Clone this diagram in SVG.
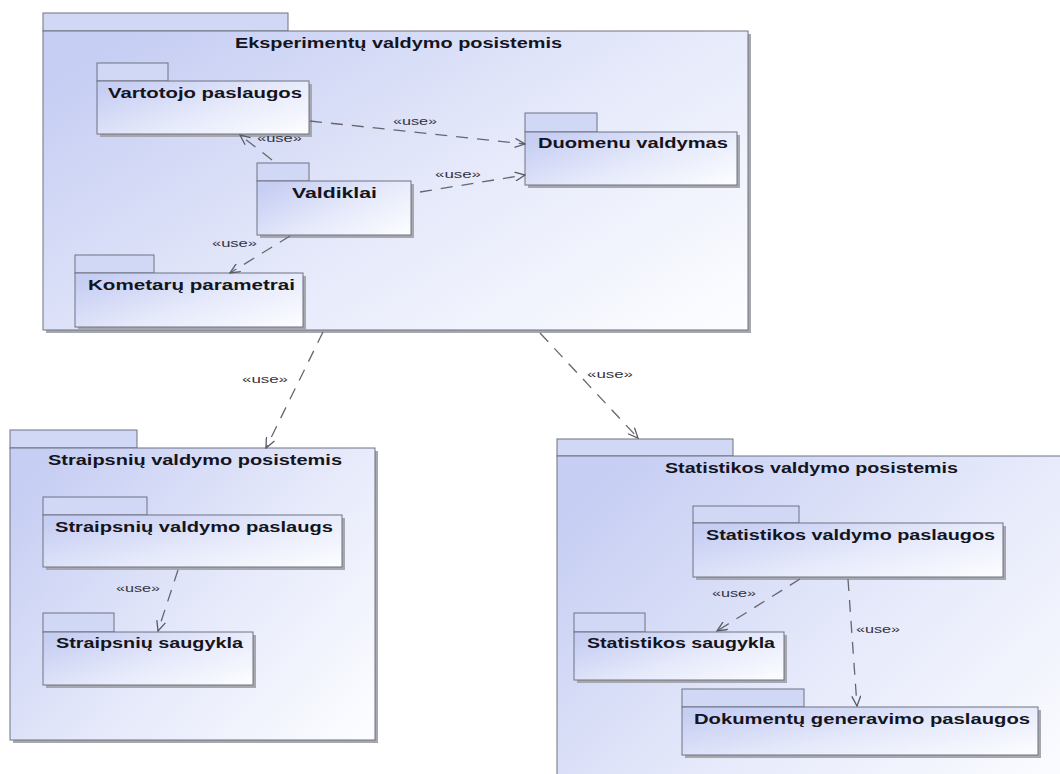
<svg xmlns="http://www.w3.org/2000/svg" width="1060" height="774" viewBox="0 0 1060 774">
  <defs>
    <linearGradient id="pkgFill" x1="0" y1="0.2" x2="1" y2="0.9">
      <stop offset="0" stop-color="#c6cef3"/>
      <stop offset="0.5" stop-color="#e4e8fa"/>
      <stop offset="1" stop-color="#fbfcff"/>
    </linearGradient>
    <marker id="open" viewBox="0 0 12 10" refX="11" refY="5" markerWidth="12" markerHeight="10" markerUnits="userSpaceOnUse" orient="auto">
      <path d="M1,0.5 L11,5 L1,9.5" fill="none" stroke="#5a5a66" stroke-width="1.3"/>
    </marker>
    <style>
      .tab { fill: #d1d8f6; stroke: #6f7282; stroke-width: 1; }
      .body { fill: url(#pkgFill); stroke: #6f7282; stroke-width: 1; }
      .shadow { fill: #a7a8ad; }
      .name { font-family: "Liberation Sans", Arial, sans-serif; font-weight: bold; font-size: 14px; fill: #141420; }
      .dep { fill: none; stroke: #66666f; stroke-width: 1.3; stroke-dasharray: 12 9; marker-end: url(#open); }
      .lbl { font-family: "Liberation Sans", Arial, sans-serif; font-size: 11px; fill: #333340; }
    </style>
  </defs>

  <rect width="1060" height="774" fill="#ffffff"/>

  <!-- Eksperimentų valdymo posistemis -->
  <g id="eksperimentu">
    <rect class="tab" x="43" y="13" width="245" height="18"/>
    <rect class="shadow" x="46" y="34" width="705" height="299"/>
    <rect class="body" x="43" y="31" width="705" height="299"/>
    <text class="name" x="235" y="48" textLength="327" lengthAdjust="spacingAndGlyphs">Eksperimentų valdymo posistemis</text>
  </g>

  <g id="vartotojo">
    <rect class="tab" x="97" y="63" width="71" height="18"/>
    <rect class="shadow" x="100" y="84" width="212" height="53"/>
    <rect class="body" x="97" y="81" width="212" height="53"/>
    <text class="name" x="108" y="98" textLength="194" lengthAdjust="spacingAndGlyphs">Vartotojo paslaugos</text>
  </g>

  <g id="duomenu">
    <rect class="tab" x="525" y="113" width="72" height="19"/>
    <rect class="shadow" x="528" y="135" width="212" height="53"/>
    <rect class="body" x="525" y="132" width="212" height="53"/>
    <text class="name" x="538" y="148" textLength="190" lengthAdjust="spacingAndGlyphs">Duomenu valdymas</text>
  </g>

  <g id="valdiklai">
    <rect class="tab" x="257" y="163" width="52" height="18"/>
    <rect class="shadow" x="260" y="184" width="154" height="54"/>
    <rect class="body" x="257" y="181" width="154" height="54"/>
    <text class="name" x="292" y="198" textLength="85" lengthAdjust="spacingAndGlyphs">Valdiklai</text>
  </g>

  <g id="kometaru">
    <rect class="tab" x="75" y="255" width="79" height="18"/>
    <rect class="shadow" x="78" y="276" width="228" height="54"/>
    <rect class="body" x="75" y="273" width="228" height="54"/>
    <text class="name" x="88" y="290" textLength="207" lengthAdjust="spacingAndGlyphs">Kometarų parametrai</text>
  </g>

  <!-- Straipsnių valdymo posistemis -->
  <g id="straipsniu">
    <rect class="tab" x="10" y="430" width="127" height="18"/>
    <rect class="shadow" x="13" y="451" width="365" height="292"/>
    <rect class="body" x="10" y="448" width="365" height="292"/>
    <text class="name" x="48" y="465" textLength="294" lengthAdjust="spacingAndGlyphs">Straipsnių valdymo posistemis</text>
  </g>

  <g id="straipsniu-paslaugs">
    <rect class="tab" x="43" y="497" width="104" height="18"/>
    <rect class="shadow" x="46" y="518" width="299" height="52"/>
    <rect class="body" x="43" y="515" width="299" height="52"/>
    <text class="name" x="55" y="532" textLength="278" lengthAdjust="spacingAndGlyphs">Straipsnių valdymo paslaugs</text>
  </g>

  <g id="straipsniu-saugykla">
    <rect class="tab" x="43" y="613" width="71" height="19"/>
    <rect class="shadow" x="46" y="635" width="210" height="53"/>
    <rect class="body" x="43" y="632" width="210" height="53"/>
    <text class="name" x="56" y="648" textLength="187" lengthAdjust="spacingAndGlyphs">Straipsnių saugykla</text>
  </g>

  <!-- Statistikos valdymo posistemis -->
  <g id="statistikos">
    <rect class="tab" x="557" y="439" width="176" height="17"/>
    <rect class="shadow" x="560" y="459" width="520" height="340"/>
    <rect class="body" x="557" y="456" width="520" height="340"/>
    <text class="name" x="665" y="473" textLength="293" lengthAdjust="spacingAndGlyphs">Statistikos valdymo posistemis</text>
  </g>

  <g id="statistikos-paslaugos">
    <rect class="tab" x="693" y="506" width="106" height="17"/>
    <rect class="shadow" x="696" y="526" width="310" height="54"/>
    <rect class="body" x="693" y="523" width="310" height="54"/>
    <text class="name" x="706" y="540" textLength="289" lengthAdjust="spacingAndGlyphs">Statistikos valdymo paslaugos</text>
  </g>

  <g id="statistikos-saugykla">
    <rect class="tab" x="574" y="613" width="71" height="19"/>
    <rect class="shadow" x="577" y="635" width="210" height="48"/>
    <rect class="body" x="574" y="632" width="210" height="48"/>
    <text class="name" x="587" y="648" textLength="188" lengthAdjust="spacingAndGlyphs">Statistikos saugykla</text>
  </g>

  <g id="dokumentu">
    <rect class="tab" x="682" y="689" width="122" height="18"/>
    <rect class="shadow" x="685" y="710" width="356" height="48"/>
    <rect class="body" x="682" y="707" width="356" height="48"/>
    <text class="name" x="694" y="724" textLength="336" lengthAdjust="spacingAndGlyphs">Dokumentų generavimo paslaugos</text>
  </g>

  <!-- «use» dependencies -->
  <g id="connectors">
    <line class="dep" x1="310" y1="121" x2="525" y2="144"/>
    <line class="dep" x1="420" y1="192" x2="525" y2="175"/>
    <line class="dep" x1="272" y1="160" x2="240" y2="135"/>
    <line class="dep" x1="290" y1="236" x2="230" y2="273"/>
    <line class="dep" x1="323" y1="332" x2="266" y2="448"/>
    <line class="dep" x1="540" y1="333" x2="638" y2="438"/>
    <line class="dep" x1="178" y1="570" x2="158" y2="631"/>
    <line class="dep" x1="800" y1="579" x2="717" y2="631"/>
    <line class="dep" x1="848" y1="579" x2="857" y2="706"/>

    <text class="lbl" x="393" y="125" textLength="44" lengthAdjust="spacingAndGlyphs">«use»</text>
    <text class="lbl" x="435" y="178" textLength="46" lengthAdjust="spacingAndGlyphs">«use»</text>
    <text class="lbl" x="257" y="142" textLength="45" lengthAdjust="spacingAndGlyphs">«use»</text>
    <text class="lbl" x="212" y="247" textLength="45" lengthAdjust="spacingAndGlyphs">«use»</text>
    <text class="lbl" x="242" y="383" textLength="46" lengthAdjust="spacingAndGlyphs">«use»</text>
    <text class="lbl" x="587" y="378" textLength="46" lengthAdjust="spacingAndGlyphs">«use»</text>
    <text class="lbl" x="116" y="592" textLength="44" lengthAdjust="spacingAndGlyphs">«use»</text>
    <text class="lbl" x="712" y="597" textLength="44" lengthAdjust="spacingAndGlyphs">«use»</text>
    <text class="lbl" x="856" y="633" textLength="44" lengthAdjust="spacingAndGlyphs">«use»</text>
  </g>
</svg>
